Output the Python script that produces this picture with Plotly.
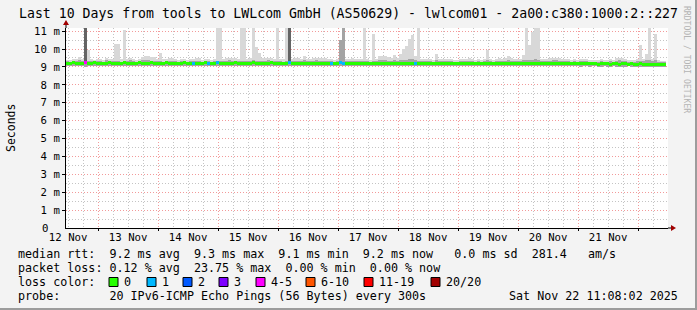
import plotly.graph_objects as go
import pandas as pd

# ---------------- data ----------------
start_time = "2025-11-12 11:08:02"
end_time = "2025-11-22 11:08:02"
step_minutes = 72  # one value per 72 minutes -> 200 steps over 10 days

# upper edge of the smoke (ms)
smoke_max = [
    9.40, 9.38, 9.42, 9.45, 9.55, 9.45, 11.5, 9.95, 9.45, 9.40, 9.45, 9.42, 9.40, 9.50, 9.45, 9.42, 10.30, 10.30, 9.45, 11.06,
    9.45, 9.48, 9.42, 9.40, 9.45, 9.58, 9.60, 9.62, 9.58, 9.55, 9.45, 9.75, 9.42, 9.45, 9.50, 9.50, 9.42, 9.40, 9.45, 9.42,
    9.40, 9.45, 9.42, 9.50, 9.48, 9.40, 9.42, 9.45, 9.40, 9.45, 11.5, 11.5, 9.45, 9.50, 9.52, 9.50, 9.48, 9.45, 11.5, 11.5,
    9.45, 9.50, 11.5, 10.10, 9.80, 9.50, 9.48, 9.52, 9.50, 9.45, 11.5, 9.45, 9.42, 11.5, 11.5, 9.45, 9.48, 9.50, 9.45, 9.60,
    9.45, 9.42, 9.50, 9.52, 9.50, 9.48, 9.50, 9.42, 9.45, 9.40, 9.45, 10.50, 11.5, 9.45, 9.45, 9.48, 9.45, 9.45, 9.42, 11.5,
    9.45, 9.40, 10.85, 9.45, 9.63, 9.63, 9.63, 9.55, 9.50, 9.67, 9.50, 9.70, 10.00, 10.14, 10.56, 10.80, 9.60, 11.5, 9.45, 9.45,
    9.42, 9.45, 9.40, 9.72, 9.45, 9.42, 9.45, 9.45, 9.42, 9.40, 9.40, 9.42, 9.45, 9.45, 9.48, 9.45, 9.40, 9.42, 9.40, 9.42,
    9.92, 9.42, 9.40, 9.45, 9.48, 9.45, 9.50, 9.63, 9.50, 9.45, 9.42, 9.45, 9.69, 11.5, 10.20, 10.95, 11.5, 11.5, 9.45, 9.42,
    9.45, 9.48, 9.50, 9.52, 9.48, 9.45, 9.45, 9.42, 9.40, 9.42, 9.40, 9.45, 9.45, 9.42, 9.40, 9.40, 9.38, 9.40, 9.42, 9.40,
    9.40, 9.42, 9.40, 9.48, 9.50, 9.48, 9.45, 9.40, 9.38, 9.40, 9.42, 10.20, 9.45, 9.72, 11.5, 9.45, 10.85, 9.40, 9.35, 9.35,
]

# lower edge of the smoke (ms)
smoke_min = [
    9.05, 9.04, 9.06, 9.03, 9.05, 9.04, 9.02, 9.05, 9.06, 9.04, 9.03, 9.05, 9.04, 9.06, 9.05, 9.03, 9.04, 9.05, 9.06, 9.04,
    9.05, 9.03, 9.04, 9.06, 9.05, 9.04, 9.03, 9.05, 9.04, 9.06, 9.05, 9.04, 9.03, 9.05, 9.06, 9.04, 9.05, 9.03, 9.04, 9.05,
    9.04, 9.06, 9.05, 9.03, 9.04, 9.05, 9.06, 9.04, 9.03, 9.05, 9.04, 9.05, 9.03, 9.04, 9.06, 9.05, 9.04, 9.03, 9.05, 9.04,
    9.05, 9.04, 9.03, 9.05, 9.06, 9.04, 9.05, 9.03, 9.04, 9.05, 9.04, 9.06, 9.05, 9.03, 9.04, 9.05, 9.04, 9.06, 9.03, 9.05,
    9.04, 9.05, 9.03, 9.04, 9.06, 9.05, 9.04, 9.03, 9.05, 9.04, 9.06, 9.05, 9.04, 9.03, 9.05, 9.04, 9.06, 9.05, 9.03, 9.04,
    9.05, 9.04, 9.06, 9.03, 9.05, 9.04, 9.05, 9.03, 9.04, 9.06, 9.05, 9.04, 9.03, 9.05, 9.04, 9.06, 9.05, 9.04, 9.03, 9.05,
    9.04, 9.05, 9.03, 9.04, 9.06, 9.05, 9.04, 9.03, 9.05, 9.04, 9.06, 9.05, 9.04, 9.03, 9.05, 9.04, 9.06, 9.05, 9.03, 9.04,
    9.05, 9.04, 9.06, 9.03, 9.05, 9.04, 9.05, 9.03, 9.04, 9.06, 9.05, 9.04, 9.03, 9.05, 9.04, 9.06, 9.05, 9.04, 9.03, 9.05,
    9.04, 9.05, 9.03, 9.04, 9.06, 9.05, 9.04, 9.03, 9.05, 9.04, 9.03, 9.02, 9.04, 9.03, 9.02, 9.04, 9.03, 9.02, 9.01, 9.03,
    9.02, 9.01, 9.03, 9.02, 9.00, 9.02, 9.01, 9.03, 9.00, 9.02, 9.01, 9.00, 9.02, 9.01, 9.00, 9.02, 9.01, 8.99, 9.00, 8.99,
]

# upper edge of the denser (middle) part of the smoke (ms)
smoke_mid = [
    9.32, 9.30, 9.34, 9.31, 9.36, 9.32, 9.35, 9.33, 9.31, 9.30, 9.34, 9.32, 9.30, 9.36, 9.33, 9.31, 9.34, 9.32, 9.30, 9.33,
    9.35, 9.38, 9.31, 9.30, 9.33, 9.36, 9.38, 9.36, 9.34, 9.33, 9.31, 9.35, 9.30, 9.32, 9.35, 9.34, 9.31, 9.30, 9.33, 9.31,
    9.30, 9.33, 9.31, 9.35, 9.34, 9.30, 9.31, 9.33, 9.30, 9.32, 9.34, 9.33, 9.31, 9.35, 9.36, 9.34, 9.33, 9.31, 9.34, 9.33,
    9.32, 9.34, 9.36, 9.34, 9.33, 9.35, 9.34, 9.36, 9.35, 9.32, 9.33, 9.31, 9.30, 9.35, 9.36, 9.32, 9.34, 9.35, 9.32, 9.38,
    9.33, 9.31, 9.35, 9.36, 9.35, 9.34, 9.35, 9.31, 9.33, 9.30, 9.33, 10.50, 11.5, 9.33, 9.34, 9.35, 9.33, 9.34, 9.31, 9.33,
    9.33, 9.30, 9.34, 9.32, 9.38, 9.38, 9.37, 9.35, 9.34, 9.36, 9.34, 9.37, 9.38, 9.40, 9.42, 9.44, 9.36, 9.35, 9.33, 9.32,
    9.31, 9.33, 9.30, 9.36, 9.33, 9.31, 9.33, 9.34, 9.31, 9.30, 9.30, 9.31, 9.33, 9.34, 9.35, 9.33, 9.30, 9.31, 9.30, 9.31,
    9.36, 9.31, 9.30, 9.33, 9.35, 9.33, 9.35, 9.38, 9.34, 9.33, 9.31, 9.33, 9.36, 9.40, 9.38, 9.40, 9.42, 9.40, 9.33, 9.31,
    9.33, 9.35, 9.36, 9.37, 9.35, 9.33, 9.33, 9.31, 9.30, 9.31, 9.30, 9.33, 9.33, 9.31, 9.30, 9.30, 9.29, 9.30, 9.31, 9.30,
    9.30, 9.31, 9.30, 9.34, 9.36, 9.34, 9.33, 9.30, 9.29, 9.30, 9.31, 9.35, 9.33, 9.36, 9.38, 9.33, 9.36, 9.29, 9.27, 9.26,
]

# dark core of the smoke where most pings were slow (ms); None = no dark core above the median
smoke_dark = [None] * 6 + [11.5] + [None] * 67 + [11.5] + [None] * 125

# median round-trip time (ms)
median_rtt = [
    9.21, 9.19, 9.22, 9.20, 9.18, 9.21, 9.23, 9.20, 9.19, 9.22, 9.20, 9.18, 9.21, 9.19, 9.22, 9.20, 9.19, 9.21, 9.20, 9.22,
    9.20, 9.18, 9.21, 9.19, 9.22, 9.20, 9.21, 9.19, 9.22, 9.20, 9.18, 9.21, 9.19, 9.22, 9.20, 9.19, 9.21, 9.18, 9.20, 9.22,
    9.19, 9.21, 9.20, 9.18, 9.21, 9.19, 9.22, 9.20, 9.18, 9.21, 9.22, 9.20, 9.19, 9.21, 9.18, 9.20, 9.22, 9.19, 9.21, 9.20,
    9.18, 9.21, 9.22, 9.20, 9.19, 9.21, 9.18, 9.20, 9.22, 9.19, 9.21, 9.18, 9.20, 9.21, 9.22, 9.19, 9.20, 9.18, 9.21, 9.19,
    9.21, 9.19, 9.20, 9.18, 9.21, 9.20, 9.19, 9.21, 9.20, 9.18, 9.20, 9.22, 9.21, 9.19, 9.21, 9.18, 9.20, 9.19, 9.21, 9.20,
    9.19, 9.21, 9.20, 9.18, 9.21, 9.19, 9.20, 9.21, 9.19, 9.20, 9.18, 9.21, 9.19, 9.20, 9.21, 9.19, 9.20, 9.21, 9.18, 9.20,
    9.19, 9.21, 9.18, 9.20, 9.19, 9.21, 9.18, 9.20, 9.21, 9.19, 9.18, 9.20, 9.19, 9.21, 9.18, 9.20, 9.19, 9.18, 9.20, 9.19,
    9.21, 9.19, 9.18, 9.20, 9.19, 9.21, 9.18, 9.20, 9.19, 9.18, 9.20, 9.19, 9.21, 9.20, 9.18, 9.19, 9.20, 9.18, 9.19, 9.20,
    9.18, 9.20, 9.19, 9.18, 9.20, 9.19, 9.17, 9.19, 9.18, 9.20, 9.18, 9.17, 9.19, 9.18, 9.17, 9.19, 9.18, 9.16, 9.18, 9.17,
    9.18, 9.16, 9.18, 9.17, 9.16, 9.18, 9.17, 9.15, 9.17, 9.16, 9.15, 9.17, 9.16, 9.15, 9.16, 9.14, 9.15, 9.14, 9.13, 9.12,
]

# lost pings out of 20 per step
loss_count = [0] * 200
for _i, _v in [(6, 4), (42, 1), (47, 1), (50, 1), (74, 1), (88, 1), (91, 1), (92, 1), (116, 1)]:
    loss_count[_i] = _v

y_ticks = [0, 1, 2, 3, 4, 5, 6, 7, 8, 9, 10, 11]
y_tick_text = ["0", "1 m", "2 m", "3 m", "4 m", "5 m", "6 m", "7 m", "8 m", "9 m", "10 m", "11 m"]

loss_labels = ["0", "1", "2", "3", "4-5", "6-10", "11-19", "20/20"]
loss_colors = ["#26ff00", "#00b8ff", "#0059ff", "#7e00ff", "#ff00ff", "#ff5500", "#ff0000", "#a10000"]

title_text = "Last 10 Days from tools to LWLcom GmbH (AS50629) - lwlcom01 - 2a00:c380:1000:2::227"
legend_rows = [
    "median rtt:  9.2 ms avg  9.3 ms max  9.1 ms min  9.2 ms now   0.0 ms sd  281.4   am/s",
    "packet loss: 0.12 % avg  23.75 % max  0.00 % min  0.00 % now",
    "loss color:",
    "probe:       20 IPv6-ICMP Echo Pings (56 Bytes) every 300s",
]
stamp_text = "Sat Nov 22 11:08:02 2025"

# ---------------- figure ----------------
W_IMG, H_IMG = 697, 310
L, T, R_EDGE, B_EDGE = 66, 28, 668, 228
PW, PH = R_EDGE - L, B_EDGE - T
MONO = "DejaVu Sans Mono"


def fx(px):
    return (px - L) / PW


def fy(py):
    return (B_EDGE - py) / PH


t0 = pd.Timestamp(start_time)
t1 = pd.Timestamp(end_time)
step = pd.Timedelta(minutes=step_minutes)
xs = [t0 + step * (k + 0.5) for k in range(len(median_rtt))]
bar_w = step / pd.Timedelta(milliseconds=1)
x_end = t0 + (t1 - t0) * (PW / 600.0)


def loss_color(n):
    if n == 0:
        return loss_colors[0]
    if n == 1:
        return loss_colors[1]
    if n == 2:
        return loss_colors[2]
    if n == 3:
        return loss_colors[3]
    if n <= 5:
        return loss_colors[4]
    if n <= 10:
        return loss_colors[5]
    if n <= 19:
        return loss_colors[6]
    return loss_colors[7]


fig = go.Figure()
fig.add_trace(go.Bar(x=xs, base=smoke_min, y=[hi - lo for hi, lo in zip(smoke_max, smoke_min)],
                     width=bar_w, marker=dict(color="#d8d8d8", line=dict(width=0)), hoverinfo="skip"))
fig.add_trace(go.Bar(x=xs, base=smoke_min, y=[hi - lo for hi, lo in zip(smoke_mid, smoke_min)],
                     width=bar_w, marker=dict(color="#a4a4a4", line=dict(width=0)), hoverinfo="skip"))
dark_x = [x for x, d in zip(xs, smoke_dark) if d is not None]
dark_base = [m for m, d in zip(median_rtt, smoke_dark) if d is not None]
dark_h = [d - m for m, d in zip(median_rtt, smoke_dark) if d is not None]
fig.add_trace(go.Bar(x=dark_x, base=dark_base, y=dark_h, width=bar_w,
                     marker=dict(color="#646464", line=dict(width=0)), hoverinfo="skip"))
line_th = 0.17
fig.add_trace(go.Bar(x=xs, base=[m - line_th / 2 for m in median_rtt], y=[line_th] * len(median_rtt),
                     width=bar_w, marker=dict(color=[loss_color(n) for n in loss_count], line=dict(width=0)),
                     hoverinfo="skip"))

grid_minor = "#c4c4c4"
grid_major = "#f29a9a"

fig.update_layout(
    width=W_IMG, height=H_IMG,
    margin=dict(l=L, r=W_IMG - R_EDGE, t=T, b=H_IMG - B_EDGE, pad=0),
    paper_bgcolor="#f3f3f3", plot_bgcolor="#ffffff",
    barmode="overlay", bargap=0, showlegend=False,
    font=dict(family=MONO, size=11, color="#000000"),
)
fig.update_xaxes(
    type="date", range=[t0, x_end],
    tick0="2025-11-13 00:00:00", dtick=86400000, ticklabelmode="period", tickformat="%d %b",
    showgrid=True, gridcolor=grid_major, griddash="1px,2px", gridwidth=1,
    minor=dict(dtick=21600000, tick0="2025-11-13 00:00:00", showgrid=True, gridcolor=grid_minor,
               griddash="1px,2px", gridwidth=1),
    ticks="outside", ticklen=2, tickcolor="#000000", ticklabelstandoff=-3,
    showline=True, linecolor="#000000", linewidth=1, zeroline=False,
    tickfont=dict(family=MONO, size=10.7, color="#000000"),
)
# the "0" label is written separately (left-aligned with the digits, like the original)
fig.update_yaxes(
    range=[0, PH / 17.9], tickvals=y_ticks[1:], ticktext=y_tick_text[1:],
    showgrid=True, gridcolor=grid_major, griddash="1px,2px", gridwidth=1,
    minor=dict(dtick=0.5, showgrid=True, gridcolor=grid_minor, griddash="1px,2px", gridwidth=1),
    ticks="outside", ticklen=3, tickcolor="#000000",
    showline=True, linecolor="#000000", linewidth=1, zeroline=False,
    tickfont=dict(family=MONO, size=10.7, color="#000000"),
)

ann = []
ann.append(dict(text=y_tick_text[0], x=fx(49), y=0, xanchor="right", yanchor="middle", borderpad=0,
                font=dict(family=MONO, size=10.7, color="#000000")))
ann.append(dict(text=title_text, x=fx(348.5), y=fy(14), xanchor="center", yanchor="middle",
                font=dict(family=MONO, size=13.2, color="#000000")))
ann.append(dict(text="Seconds", x=fx(11), y=fy(128), xanchor="center", yanchor="middle", textangle=-90,
                font=dict(family=MONO, size=11.5, color="#000000")))
ann.append(dict(text="RRDTOOL / TOBI OETIKER", x=fx(687), y=fy(59), xanchor="center", yanchor="middle",
                textangle=90, font=dict(family=MONO, size=8.1, color="#b4b4b4")))
for i, row_y in enumerate([254, 268, 282, 296]):
    ann.append(dict(text=legend_rows[i].replace(" ", "\u00a0"), x=fx(16), y=fy(row_y), xanchor="left",
                    yanchor="middle", font=dict(family=MONO, size=11.7, color="#000000")))
ann.append(dict(text=stamp_text, x=fx(680), y=fy(296), xanchor="right", yanchor="middle",
                font=dict(family=MONO, size=11.7, color="#000000")))
label_px = [123, 161, 197, 233, 270, 320, 378, 445]
shapes = []
for lab, col, lx in zip(loss_labels, loss_colors, label_px):
    ann.append(dict(text=lab, x=fx(lx - 1), y=fy(282), xanchor="left", yanchor="middle",
                    font=dict(family=MONO, size=11.7, color="#000000")))
    shapes.append(dict(type="rect", xref="paper", yref="paper", x0=fx(lx - 14), x1=fx(lx - 5),
                       y0=fy(286.5), y1=fy(277.5), fillcolor=col, line=dict(color="#000000", width=1)))
for a in ann:
    a.update(xref="paper", yref="paper", showarrow=False)

# axis extensions and arrow heads
arrow_col = "#a10000"
shapes.append(dict(type="line", xref="paper", yref="paper", x0=fx(R_EDGE), x1=fx(671), y0=0, y1=0,
                   line=dict(color="#000000", width=1)))
shapes.append(dict(type="path", xref="paper", yref="paper",
                   path=f"M {fx(671)} {fy(225)} L {fx(676)} {fy(228)} L {fx(671)} {fy(231)} Z",
                   fillcolor=arrow_col, line=dict(color=arrow_col, width=0)))
shapes.append(dict(type="line", xref="paper", yref="paper", x0=0, x1=0, y0=1, y1=fy(25),
                   line=dict(color="#000000", width=1)))
shapes.append(dict(type="path", xref="paper", yref="paper",
                   path=f"M {fx(63)} {fy(25)} L {fx(66)} {fy(20)} L {fx(69)} {fy(25)} Z",
                   fillcolor=arrow_col, line=dict(color=arrow_col, width=0)))
# image frame
shapes.append(dict(type="line", xref="paper", yref="paper", x0=fx(0), x1=fx(697), y0=fy(309), y1=fy(309),
                   line=dict(color="#9c9c9c", width=2)))
shapes.append(dict(type="line", xref="paper", yref="paper", x0=fx(696), x1=fx(696), y0=fy(0), y1=fy(310),
                   line=dict(color="#9c9c9c", width=2)))

fig.update_layout(annotations=ann, shapes=shapes)
fig.write_html("out.html")
